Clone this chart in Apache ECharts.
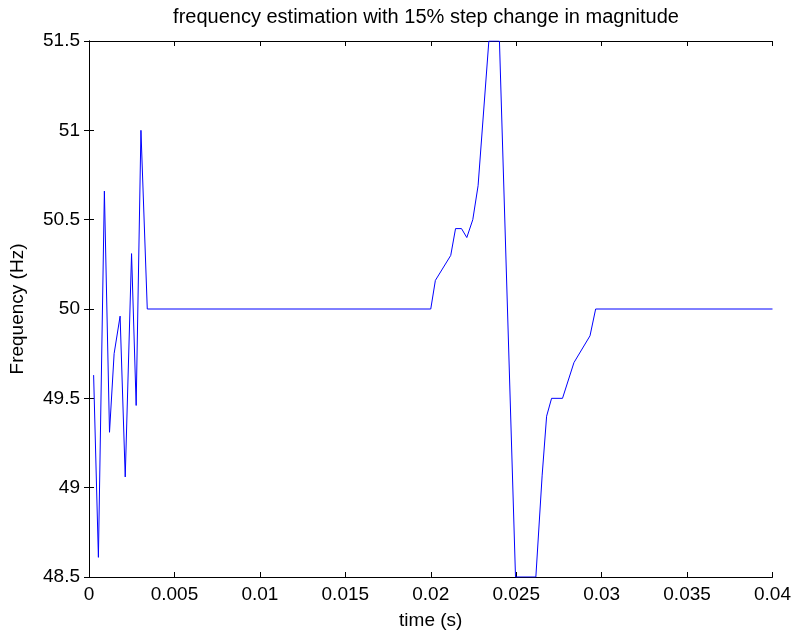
<!DOCTYPE html>
<html>
<head>
<meta charset="utf-8">
<script src="https://cdn.jsdelivr.net/npm/echarts@6/dist/echarts.min.js"></script>
<style>html,body{margin:0;padding:0;background:#fff;}#c{width:794px;height:636px;}</style>
</head>
<body>
<div id="c"></div>
<script>
// time (s)
var times = [0.00027,0.00055,0.00090,0.00120,0.00147,0.00182,0.00212,0.00249,0.00276,0.00304,0.00341,
             0.02000,0.02027,0.02117,0.02145,0.02180,0.02211,0.02246,0.02277,0.02340,0.02402,
             0.02496,0.02615,0.02652,0.02678,0.02707,0.02771,0.02838,0.02932,0.02965,0.04000];
// estimated frequency (Hz)
var freq = [49.63,48.61,50.66,49.31,49.75,49.96,49.06,50.31,49.46,51.00,50.00,
            50.00,50.16,50.30,50.45,50.45,50.40,50.50,50.69,51.50,51.50,
            48.50,48.50,49.07,49.40,49.50,49.50,49.70,49.85,50.00,50.00];
var xTicks = [0,0.005,0.01,0.015,0.02,0.025,0.03,0.035,0.04];
var yTicks = [48.5,49,49.5,50,50.5,51,51.5];
var titleText = 'frequency estimation with 15% step change in magnitude';
var xName = 'time (s)';
var yName = 'Frequency (Hz)';

var data = times.map(function(t,i){return [t,freq[i]];});
var FONT = 'Liberation Sans, Arial, sans-serif';
var FS = 19;
var chart = echarts.init(document.getElementById('c'), null, {renderer:'canvas'});
function fmtX(v){ return String(+v.toFixed(3)); }
var common = {
  axisLine:{show:true,lineStyle:{color:'#000',width:1}},
  axisTick:{show:true,inside:true,length:5,lineStyle:{color:'#000',width:1}},
  splitLine:{show:false}
};
chart.setOption({
  animation:false,
  backgroundColor:'#fff',
  title:{text:titleText,left:421,top:2,textAlign:'center',
    textStyle:{fontFamily:FONT,fontSize:20,fontWeight:'normal',color:'#000'}},
  grid:{left:89,right:21,top:41,bottom:59,containLabel:false},
  xAxis:[
    Object.assign({type:'value',min:0,max:0.04,interval:0.005,position:'bottom',
      name:xName,nameLocation:'middle',nameGap:34,
      nameTextStyle:{fontFamily:FONT,fontSize:FS,color:'#000'},
      axisLabel:{fontFamily:FONT,fontSize:FS,color:'#000',margin:8,formatter:fmtX}},common),
    Object.assign({type:'value',min:0,max:0.04,interval:0.005,position:'top',
      axisLabel:{show:false}},common)
  ],
  yAxis:[
    Object.assign({type:'value',min:48.5,max:51.5,interval:0.5,position:'left',
      name:yName,nameLocation:'middle',nameGap:62,
      nameTextStyle:{fontFamily:FONT,fontSize:FS,color:'#000'},
      axisLabel:{fontFamily:FONT,fontSize:FS,color:'#000',margin:9,
        formatter:function(v){return String(+v.toFixed(1));}}},common),
    Object.assign({type:'value',min:48.5,max:51.5,interval:0.5,position:'right',
      axisLabel:{show:false}},common)
  ],
  series:[{
    type:'line',data:data,xAxisIndex:0,yAxisIndex:0,
    showSymbol:false,symbol:'none',clip:true,
    lineStyle:{color:'#0000ff',width:1},
    itemStyle:{color:'#0000ff'}
  }]
});
</script>
</body>
</html>
